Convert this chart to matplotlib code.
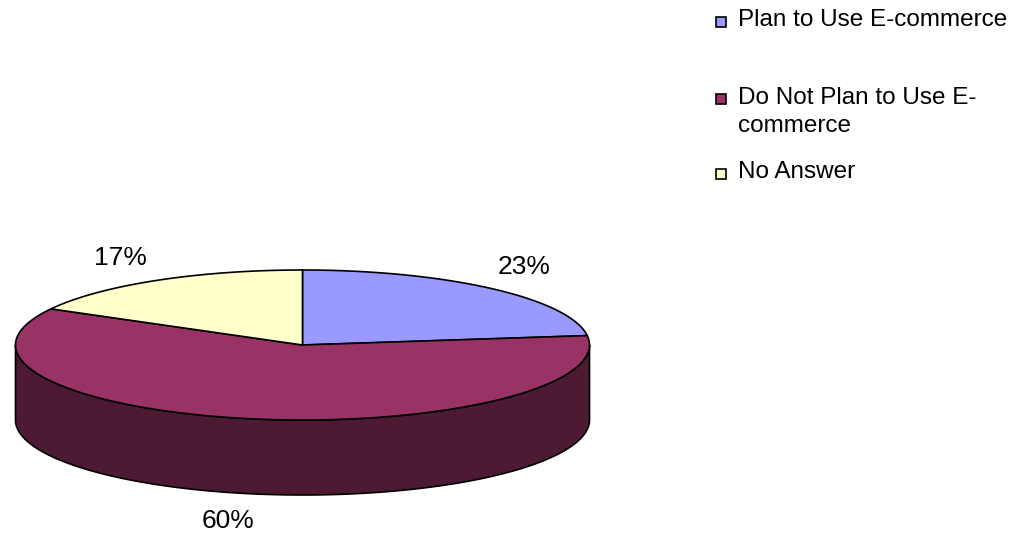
"""
E-commerce plans: 3D-style pie with side wall and legend
"""

import matplotlib
matplotlib.use('Agg')
import matplotlib.pyplot as plt
import numpy as np
from matplotlib.patches import Polygon, Rectangle

# Data
labels = ['Plan to Use E-commerce', 'Do Not Plan to Use E-\ncommerce', 'No Answer']
shares = [23, 60, 17]
colors = ['#9999FF', '#993366', '#FFFFCC']

# Geometry (pixel space)
W, H = 1031, 537
cx, cy = 302.5, 345
rx, ry = 287, 75
depth = 75


def darker(hexcol, f=0.5):
    r, g, b = matplotlib.colors.to_rgb(hexcol)
    return (r * f, g * f, b * f)


def rim(a0, a1, dy=0, n=200):
    t = np.radians(np.linspace(a0, a1, n))
    return np.column_stack([cx + rx * np.cos(t), cy - ry * np.sin(t) + dy])


plt.rcParams['font.family'] = ['Liberation Sans', 'DejaVu Sans']
fig = plt.figure(figsize=(W / 100, H / 100), dpi=100)
ax = fig.add_axes([0, 0, 1, 1])
ax.set_xlim(0, W)
ax.set_ylim(H, 0)
ax.axis('off')

# slice angles, clockwise from 12 o'clock
fracs = np.array(shares, dtype=float) / sum(shares)
ends = 90 - 360 * np.cumsum(fracs)
starts = np.concatenate([[90], ends[:-1]])

# side wall: visible front half is 180..360 degrees
for s, e, col in zip(starts, ends, colors):
    lo, hi = min(s, e), max(s, e)
    for k in (0, 360, -360):
        a0, a1 = max(lo + k, 180), min(hi + k, 360)
        if a1 > a0:
            top = rim(a0, a1)
            bot = rim(a1, a0, dy=depth)
            ax.add_patch(Polygon(np.vstack([top, bot]), closed=True,
                                 facecolor=darker(col), edgecolor='black',
                                 linewidth=1.2, zorder=2))

# top faces
for s, e, col in zip(starts, ends, colors):
    arc = rim(s, e)
    pts = np.vstack([[cx, cy], arc])
    ax.add_patch(Polygon(pts, closed=True, facecolor=col, edgecolor='black',
                         linewidth=1.2, zorder=3))

# percentage labels
label_pos = [(524, 267), (228, 521), (120, 258)]
for (x, y), v in zip(label_pos, shares):
    ax.text(x, y, f'{v}%', ha='center', va='center', fontsize=19, zorder=5)

# legend
leg_y = [20, 112, 172]
for (lab, col), y in zip(zip(labels, colors), leg_y):
    first_line_y = y - 15 if '\n' in lab else y
    ax.add_patch(Rectangle((716, first_line_y - 3), 10, 10, facecolor=col,
                           edgecolor='black', linewidth=1.2, zorder=4))
    ax.text(738, y, lab, ha='left', va='center', fontsize=17.5,
            linespacing=1.4, zorder=5)

plt.savefig('out.png', dpi=100)
plt.close()
